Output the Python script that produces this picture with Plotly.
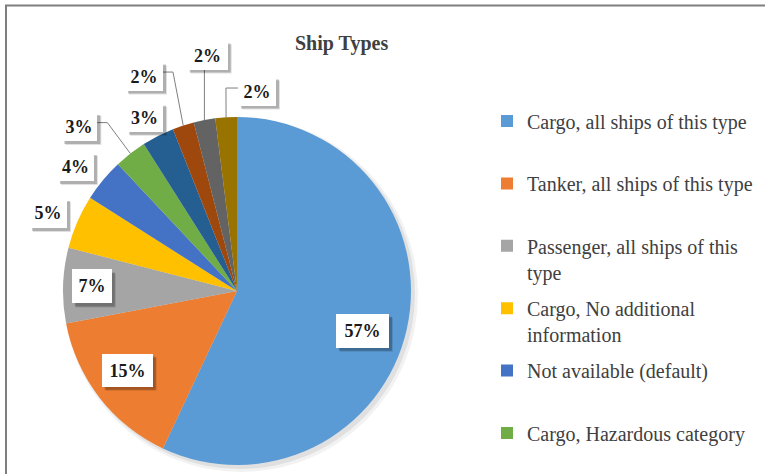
import math
import plotly.graph_objects as go

# ---------------- data ----------------
categories = [
    "Cargo, all ships of this type",
    "Tanker, all ships of this type",
    "Passenger, all ships of this type",
    "Cargo, No additional information",
    "Not available (default)",
    "Cargo, Hazardous category",
    "Tanker, Hazardous category",
    "Fishing",
    "Tug",
    "Pleasure Craft",
]
shares = [57, 15, 7, 5, 4, 3, 3, 2, 2, 2]
legend_text = [
    "Cargo, all ships of this type",
    "Tanker, all ships of this type",
    "Passenger, all ships of this<br>type",
    "Cargo, No additional<br>information",
    "Not available (default)",
    "Cargo, Hazardous category",
]
title_text = "Ship Types"

# ---------------- style ----------------
colors = ["#5B9BD5", "#ED7D31", "#A5A5A5", "#FFC000", "#4472C4",
          "#70AD47", "#255E91", "#9E480E", "#636363", "#997300"]
W, H = 765, 474
CX, CY, R = 237, 291, 174
SERIF = "Liberation Serif, Times New Roman, serif"
# (radius factor, angle shift in degrees, leader style, box width, box height)
label_style = [
    (0.756, 5.0, None, 53, 34),
    (0.778, 2.0, None, 51, 33),
    (0.835, 0.0, None, 40, 34),
    (1.175, -1.0, None, 38, 30),
    (1.172, -2.0, None, 37, 29),
    (1.309, -6.0, "h", 36, 29),
    (1.131, -1.0, None, 37, 29),
    (1.346, -5.4, "h", 38, 29),
    (1.367, 3.6, "v", 41, 29),
    (1.155, 9.3, "h", 38, 29),
]


def px(x):
    return x / W


def py(y):
    return 1 - y / H


fig = go.Figure()

# legend-only helper pies (tiny, hidden under the main pie)
n_leg = len(legend_text)
for i, lab in enumerate(legend_text):
    pad = lab if ("<br>" in lab or i == n_leg - 1) else lab + "<br> "
    fig.add_trace(go.Pie(
        labels=[pad], values=[shares[i]],
        marker=dict(colors=[colors[i]], line=dict(width=0)),
        domain=dict(x=[px(CX) - 0.0004, px(CX) + 0.0004], y=[py(CY) - 0.0004, py(CY) + 0.0004]),
        textinfo="none", hoverinfo="skip", sort=False,
        legendgroup=f"g{i}", showlegend=True,
    ))

# main pie
fig.add_trace(go.Pie(
    labels=categories, values=shares,
    marker=dict(colors=colors, line=dict(width=0)),
    sort=False, direction="clockwise", rotation=0,
    textinfo="none", showlegend=False,
    domain=dict(x=[px(CX - R), px(CX + R)], y=[py(CY + R), py(CY - R)]),
    hovertemplate="%{label}: %{percent}<extra></extra>",
))

shapes = []
annotations = []

# soft shadow behind the pie
for off, rad, a in [(4, R + 3, 0.05), (3, R + 1, 0.07)]:
    shapes.append(dict(type="circle", xref="paper", yref="paper", layer="below",
                       x0=px(CX + off - rad), x1=px(CX + off + rad),
                       y0=py(CY + off + rad), y1=py(CY + off - rad),
                       fillcolor=f"rgba(0,0,0,{a})", line=dict(width=0)))

# border (top and left)
shapes.append(dict(type="path", xref="paper", yref="paper",
                   path=f"M {px(6)},{py(480)} L {px(6)},{py(5.5)} L {px(770)},{py(5.5)}",
                   line=dict(color="#7f7f7f", width=2)))

# data labels
total = sum(shares)
cum = 0
for v, (rho, dth, leader, bw, bh) in zip(shares, label_style):
    mid = (cum + v / 2) / total * 360
    cum += v
    th = math.radians(mid + dth)
    bx = CX + rho * R * math.sin(th)
    by = CY - rho * R * math.cos(th)
    pxp = CX + R * math.sin(math.radians(mid))
    pyp = CY - R * math.cos(math.radians(mid))
    if leader == "h":
        if bx < pxp:
            b = (bx + bw / 2, by - 4)
            e = (b[0] + 10, b[1])
        else:
            b = (bx - bw / 2, by - 3)
            e = (b[0] - 12, b[1])
        path = f"M {px(pxp)},{py(pyp)} L {px(e[0])},{py(e[1])} L {px(b[0])},{py(b[1])}"
        shapes.append(dict(type="path", xref="paper", yref="paper", path=path,
                           line=dict(color="#7f7f7f", width=1)))
    elif leader == "v":
        path = f"M {px(pxp)},{py(pyp)} L {px(pxp)},{py(by + bh / 2)}"
        shapes.append(dict(type="path", xref="paper", yref="paper", path=path,
                           line=dict(color="#7f7f7f", width=1)))
    # box shadow
    for off, a in [(4, 0.12), (3, 0.22)]:
        shapes.append(dict(type="rect", xref="paper", yref="paper", layer="above",
                           x0=px(bx - bw / 2 + off), x1=px(bx + bw / 2 + off),
                           y0=py(by + bh / 2 + off), y1=py(by - bh / 2 + off),
                           fillcolor=f"rgba(0,0,0,{a})", line=dict(width=0)))
    annotations.append(dict(text=f"{v}%", x=px(bx), y=py(by), xref="paper", yref="paper",
                            xanchor="center", yanchor="middle", showarrow=False,
                            width=bw, height=bh, borderpad=0, borderwidth=0,
                            align="center", valign="middle", bgcolor="white",
                            font=dict(family=SERIF, size=18, color="#1a1a1a", weight="bold")))

# title
annotations.append(dict(text=title_text, x=px(341.5), y=py(43), xref="paper", yref="paper",
                        showarrow=False, xanchor="center", yanchor="middle",
                        font=dict(family=SERIF, size=20, color="#404040", weight="bold")))

fig.update_layout(
    width=W, height=H,
    margin=dict(l=0, r=0, t=0, b=0),
    paper_bgcolor="white", plot_bgcolor="white",
    shapes=shapes, annotations=annotations,
    showlegend=True,
    legend=dict(x=px(487), y=py(101.5), xanchor="left", yanchor="top",
                traceorder="grouped", tracegroupgap=7.4, valign="top",
                font=dict(family=SERIF, size=20, color="#404040"),
                bgcolor="rgba(0,0,0,0)"),
)

fig.write_html("out.html", config={"displayModeBar": False},
               post_script="document.body.style.margin='0';")
